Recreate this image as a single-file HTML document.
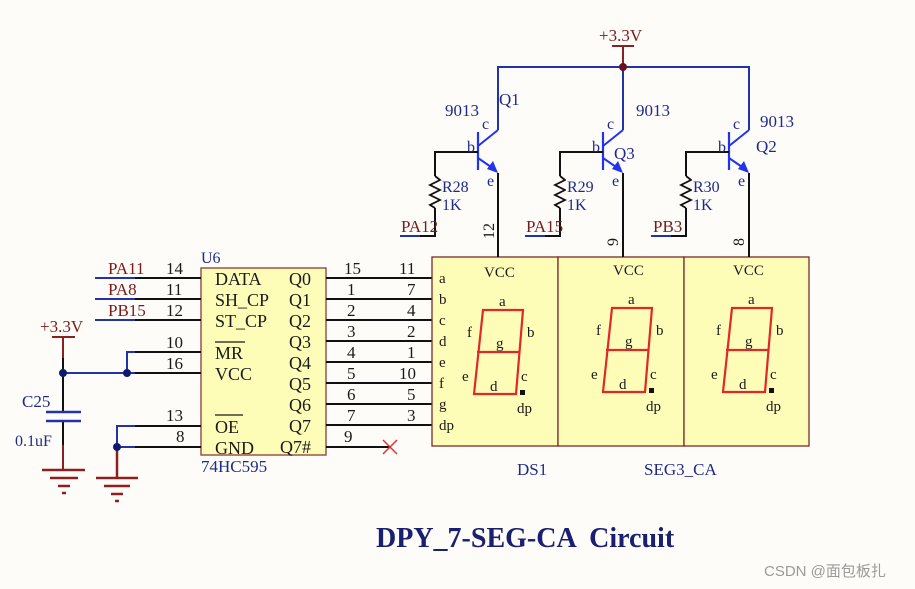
<!DOCTYPE html>
<html><head><meta charset="utf-8"><style>
html,body{margin:0;padding:0;background:#fdfcf8;}
svg{display:block;}
text{font-family:"Liberation Serif",serif;}
</style></head><body>
<svg width="915" height="589" viewBox="0 0 915 589" xmlns="http://www.w3.org/2000/svg">
<rect width="915" height="589" fill="#fdfcf8"/>
<!-- U6 -->
<rect x="201" y="268" width="125" height="187" fill="#fefdb8" stroke="#8b3a3a" stroke-width="1.3"/>
<g font-size="18" fill="#1a1a1a">
<text x="215" y="285">DATA</text><text x="215" y="306">SH_CP</text><text x="215" y="327">ST_CP</text>
<text x="215" y="359">MR</text><text x="215" y="380">VCC</text><text x="215" y="433">OE</text><text x="215" y="454">GND</text>
<text x="289" y="285">Q0</text><text x="289" y="306">Q1</text><text x="289" y="327">Q2</text><text x="289" y="348">Q3</text>
<text x="289" y="369">Q4</text><text x="289" y="390">Q5</text><text x="289" y="411">Q6</text><text x="289" y="432">Q7</text><text x="280" y="453">Q7#</text>
</g>
<line x1="215" y1="342" x2="245" y2="342" stroke="#1a1a1a" stroke-width="1.3"/>
<line x1="215" y1="415" x2="243" y2="415" stroke="#1a1a1a" stroke-width="1.3"/>
<text x="201" y="263" font-size="16" fill="#1e2a8a">U6</text>
<text x="201" y="472" font-size="17" fill="#1e2a8a">74HC595</text>
<!-- left pins -->
<g stroke-width="2">
<line x1="95" y1="278" x2="135" y2="278" stroke="#2233aa"/><line x1="135" y1="278" x2="201" y2="278" stroke="#111"/>
<line x1="95" y1="299" x2="135" y2="299" stroke="#2233aa"/><line x1="135" y1="299" x2="201" y2="299" stroke="#111"/>
<line x1="95" y1="320" x2="135" y2="320" stroke="#2233aa"/><line x1="135" y1="320" x2="201" y2="320" stroke="#111"/>
<polyline points="127,373 127,352 135,352" fill="none" stroke="#2233aa"/><line x1="135" y1="352" x2="201" y2="352" stroke="#111"/>
<line x1="63" y1="373" x2="135" y2="373" stroke="#2233aa"/><line x1="135" y1="373" x2="201" y2="373" stroke="#111"/>
<polyline points="117,447 117,426 135,426" fill="none" stroke="#2233aa"/><line x1="135" y1="426" x2="201" y2="426" stroke="#111"/>
<line x1="117" y1="447" x2="135" y2="447" stroke="#2233aa"/><line x1="135" y1="447" x2="201" y2="447" stroke="#111"/>
</g>
<g font-size="17" fill="#7a1a1a"><text x="108" y="274">PA11</text><text x="108" y="295">PA8</text><text x="108" y="316">PB15</text></g>
<g font-size="17" fill="#1a1a1a"><text x="166" y="274">14</text><text x="166" y="295">11</text><text x="166" y="316">12</text>
<text x="166" y="348">10</text><text x="166" y="369">16</text><text x="166" y="421">13</text><text x="176" y="442">8</text></g>
<!-- cap & power -->
<line x1="63" y1="337" x2="63" y2="358" stroke="#8b2020" stroke-width="2"/>
<line x1="52" y1="337" x2="75" y2="337" stroke="#8b2020" stroke-width="2"/>
<text x="40" y="332" font-size="17" fill="#7a1a1a">+3.3V</text>
<line x1="63" y1="358" x2="63" y2="412" stroke="#111" stroke-width="2"/>
<line x1="63" y1="421" x2="63" y2="445" stroke="#111" stroke-width="2"/>
<line x1="63" y1="445" x2="63" y2="470" stroke="#8b2020" stroke-width="2"/>
<line x1="46" y1="412" x2="81" y2="412" stroke="#2233aa" stroke-width="2.5"/>
<line x1="46" y1="421" x2="81" y2="421" stroke="#2233aa" stroke-width="2.5"/>
<text x="22" y="407" font-size="17" fill="#1e2a8a">C25</text>
<text x="15" y="446" font-size="16" fill="#1e2a8a">0.1uF</text>
<g stroke="#8b2020" stroke-width="2.5">
<line x1="42" y1="470" x2="85" y2="470"/><line x1="50" y1="478" x2="78" y2="478"/><line x1="58" y1="486" x2="70" y2="486"/><line x1="62" y1="493" x2="66" y2="493"/>
<line x1="117" y1="447" x2="117" y2="478"/>
<line x1="96" y1="478" x2="138" y2="478"/><line x1="104" y1="486" x2="130" y2="486"/><line x1="111" y1="494" x2="123" y2="494"/><line x1="115" y1="501" x2="119" y2="501"/>
</g>
<g fill="#101a6a"><circle cx="63" cy="373" r="4"/><circle cx="127" cy="373" r="4"/><circle cx="117" cy="447" r="4"/></g>
<!-- right pins -->
<g stroke="#111" stroke-width="2">
<line x1="326" y1="278" x2="432" y2="278"/><line x1="326" y1="299" x2="432" y2="299"/><line x1="326" y1="320" x2="432" y2="320"/>
<line x1="326" y1="341" x2="432" y2="341"/><line x1="326" y1="362" x2="432" y2="362"/><line x1="326" y1="383" x2="432" y2="383"/>
<line x1="326" y1="404" x2="432" y2="404"/><line x1="326" y1="425" x2="432" y2="425"/><line x1="326" y1="447" x2="390" y2="447"/>
</g>
<g stroke="#e03030" stroke-width="1.5"><line x1="383" y1="440" x2="397" y2="454"/><line x1="397" y1="440" x2="383" y2="454"/></g>
<g font-size="17" fill="#1a1a1a">
<text x="344" y="274">15</text><text x="347" y="295">1</text><text x="347" y="316">2</text><text x="347" y="337">3</text><text x="347" y="358">4</text><text x="347" y="379">5</text><text x="347" y="400">6</text><text x="347" y="421">7</text><text x="344" y="442">9</text>
<text x="399" y="274">11</text><text x="407" y="295">7</text><text x="407" y="316">4</text><text x="407" y="337">2</text><text x="407" y="358">1</text><text x="399" y="379">10</text><text x="407" y="400">5</text><text x="407" y="421">3</text>
</g>
<!-- display boxes -->
<g fill="#fefdb8" stroke="#7a2a2a" stroke-width="1.3">
<rect x="432" y="257" width="126" height="189"/><rect x="558" y="257" width="126" height="189"/><rect x="684" y="257" width="125" height="189"/>
</g>
<g font-size="15" fill="#1a1a1a">
<text x="439" y="283">a</text><text x="439" y="304">b</text><text x="439" y="325">c</text><text x="439" y="346">d</text><text x="439" y="367">e</text><text x="439" y="388">f</text><text x="439" y="409">g</text><text x="439" y="430">dp</text>
</g>
<defs>
<g id="dig">
<text x="484" y="277" font-size="15" fill="#1a1a1a">VCC</text>
<polygon points="483,310 523,310 516,394 474,394" fill="none" stroke="#e02828" stroke-width="2.2"/>
<line x1="477" y1="352" x2="520" y2="352" stroke="#e02828" stroke-width="2.2"/>
<rect x="520" y="390" width="5" height="5" fill="#111"/>
<g font-size="15" fill="#1a1a1a">
<text x="499" y="306">a</text><text x="467" y="337">f</text><text x="527" y="337">b</text><text x="496" y="348">g</text>
<text x="462" y="381">e</text><text x="521" y="381">c</text><text x="490" y="391">d</text><text x="517" y="413">dp</text></g>
</g>
</defs>
<use href="#dig"/>
<use href="#dig" transform="translate(129,-2)"/>
<use href="#dig" transform="translate(249,-2)"/>
<text x="517" y="475" font-size="17" fill="#1e2a8a">DS1</text>
<text x="644" y="475" font-size="17" fill="#1e2a8a">SEG3_CA</text>
<!-- top rail -->
<polyline points="498,130 498,67 749,67 749,130" fill="none" stroke="#2233aa" stroke-width="2"/>
<line x1="623" y1="47" x2="623" y2="130" stroke="#2233aa" stroke-width="2"/>
<line x1="623" y1="47" x2="623" y2="67" stroke="#8b2020" stroke-width="2"/>
<line x1="612" y1="46" x2="634" y2="46" stroke="#8b2020" stroke-width="2"/>
<circle cx="623" cy="67" r="4" fill="#6a1020"/>
<text x="599" y="41" font-size="17" fill="#7a1a1a">+3.3V</text>
<defs>
<g id="tr">
<line x1="498" y1="130" x2="478" y2="146" stroke="#2233ee" stroke-width="2"/>
<line x1="478" y1="132" x2="478" y2="170" stroke="#2233ee" stroke-width="2.2"/>
<line x1="478" y1="158" x2="494" y2="169" stroke="#2233ee" stroke-width="2"/>
<polygon points="498,173 487,169 493,161" fill="#2233ee"/>
<line x1="498" y1="173" x2="498" y2="257" stroke="#111" stroke-width="2"/>
<polyline points="478,152 435,152 435,176" fill="none" stroke="#111" stroke-width="2"/>
<polyline points="435,176 440,180 430,185 440,190 430,195 440,200 430,205 435,208" fill="none" stroke="#111" stroke-width="1.8"/>
<polyline points="435,208 435,236 400,236" fill="none" stroke="#111" stroke-width="2"/>
<line x1="400" y1="236" x2="420" y2="236" stroke="#2233aa" stroke-width="2"/>
<g font-size="16" fill="#1e2a8a"><text x="482" y="129">c</text><text x="467" y="152">b</text><text x="487" y="186">e</text>
<text x="442" y="192">R28</text><text x="442" y="210">1K</text></g>
</g>
</defs>
<use href="#tr"/>
<use href="#tr" transform="translate(125,0)"/>
<use href="#tr" transform="translate(251,0)"/>
<g font-size="17" fill="#1e2a8a">
<text x="445" y="116">9013</text><text x="499" y="105">Q1</text>
<text x="636" y="116">9013</text><text x="614" y="159">Q3</text>
<text x="760" y="127">9013</text><text x="756" y="152">Q2</text>
</g>
<g font-size="16" fill="#1e2a8a">
<rect x="566" y="176" width="32" height="17" fill="#fdfcf8"/><text x="567" y="192">R29</text>
<rect x="692" y="176" width="32" height="17" fill="#fdfcf8"/><text x="693" y="192">R30</text>
</g>
<g font-size="17" fill="#7a1a1a"><text x="401" y="232">PA12</text><text x="526" y="232">PA15</text><text x="653" y="232">PB3</text></g>
<g font-size="16" fill="#1a1a1a">
<text transform="translate(494,239) rotate(-90)">12</text>
<text transform="translate(618,246) rotate(-90)">9</text>
<text transform="translate(744,246) rotate(-90)">8</text>
</g>
<text x="376" y="547" font-size="28" font-weight="bold" fill="#1a2070" xml:space="preserve" style="white-space:pre">DPY_7-SEG-CA  Circuit</text>
<text x="764" y="576" font-size="15" fill="#9a9a9a" style="font-family:'Liberation Sans','Noto Sans CJK SC',sans-serif">CSDN @面包板扎</text>
</svg>
</body></html>
